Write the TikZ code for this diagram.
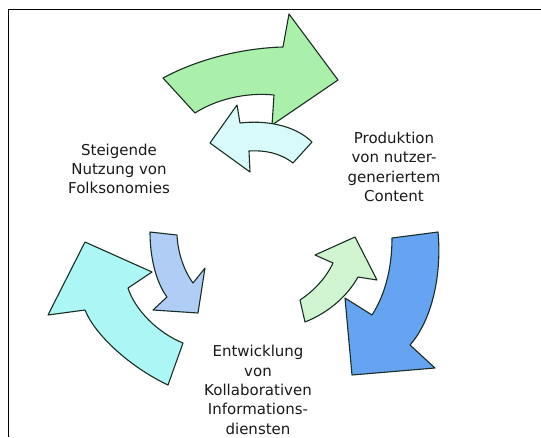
\documentclass[tikz,border=0pt]{standalone}
\usepackage{fontspec}
\setmainfont{DejaVu Sans}
\definecolor{grnbig}{RGB}{170,240,170}
\definecolor{grnsmall}{RGB}{208,245,208}
\definecolor{cyanbig}{RGB}{172,246,246}
\definecolor{cyansmall}{RGB}{216,250,250}
\definecolor{bluebig}{RGB}{102,163,240}
\definecolor{bluesmall}{RGB}{176,206,245}
\definecolor{edge}{RGB}{25,45,35}
\begin{document}
\begin{tikzpicture}[x=1pt, y=-1pt,
		arrowshape/.style={draw=edge, line width=1.1pt, line join=round},
		cyclelabel/.style={align=center, text=black!90, font=\fontsize{15}{19.3}\selectfont}]
			\useasboundingbox (0,0) rectangle (541,437);
			%frame
			\draw[line width=1pt] (8,437) -- (8,9) -- (541,9);
			
			%top pair
			\draw[arrowshape, fill=grnbig] (163,78) .. controls (200,58) and (245,48) .. (283,47)
				-- (289,14) -- (338,80) -- (272,125) -- (274,95)
				.. controls (245,92) and (215,100) .. (195,113) -- cycle;
			\draw[arrowshape, fill=cyansmall] (210,143) -- (237,105) -- (240,123)
				.. controls (265,120) and (295,125) .. (312,142) -- (293,163)
				.. controls (280,153) and (265,150) .. (249,151) -- (250,172) -- cycle;
			
			%left pair
			\draw[arrowshape, fill=cyanbig] (85,242) -- (152,272) -- (128,288)
				.. controls (135,310) and (158,333) .. (183,343) -- (168,385)
				.. controls (130,367) and (95,335) .. (85,310) -- (48,315) -- cycle;
			\draw[arrowshape, fill=bluesmall] (150,232) -- (177,235)
				.. controls (178,255) and (185,272) .. (193,283) -- (205,268)
				-- (198,313) -- (153,310) -- (167,297)
				.. controls (158,285) and (150,262) .. cycle;
			
			%right pair
			\draw[arrowshape, fill=bluebig] (392,238) -- (438,232)
				.. controls (442,275) and (432,320) .. (410,345) -- (435,368)
				-- (352,375) -- (345,298) -- (372,315)
				.. controls (385,295) and (392,268) .. cycle;
			\draw[arrowshape, fill=grnsmall] (300,300) .. controls (312,292) and (325,280) .. (333,263)
				-- (315,255) -- (355,237) -- (377,280) -- (358,277)
				.. controls (348,295) and (330,312) .. (305,322) -- cycle;
			
			%labels
			\node[cyclelabel] (nutzung) at (119,169) {Steigende\\Nutzung von\\Folksonomies};
			\node[cyclelabel] (produktion) at (394,167) {Produktion\\von nutzer-\\generiertem\\Content};
			\node[cyclelabel] (entwicklung) at (258,390) {Entwicklung\\von\\Kollaborativen\\Informations-\\diensten};
		\end{tikzpicture}
\end{document}
